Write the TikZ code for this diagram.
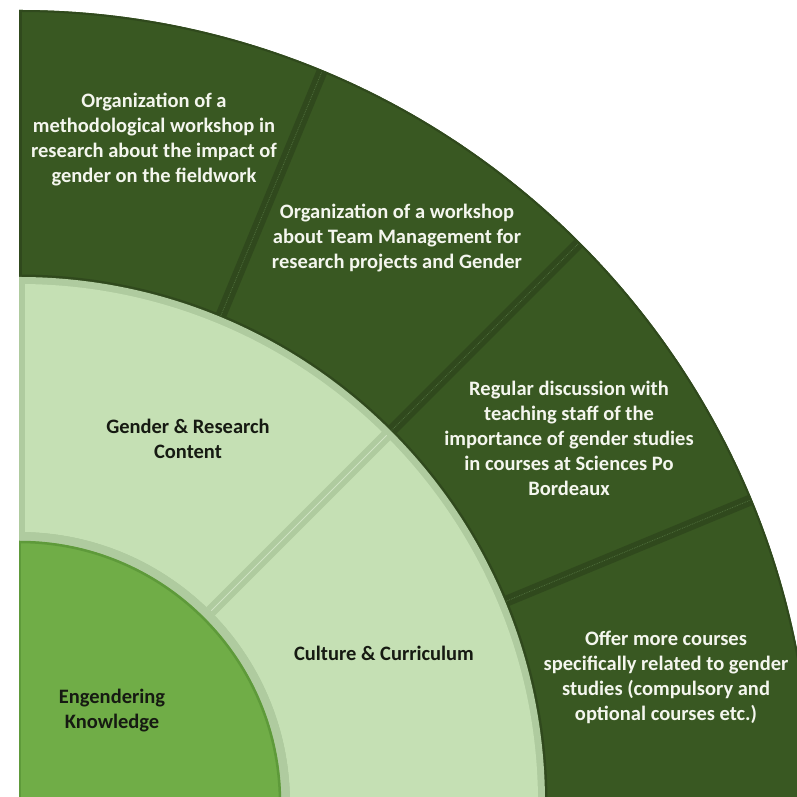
\documentclass[tikz,border=0pt]{standalone}
\usepackage{fontspec}
\setmainfont{Carlito}
\definecolor{darkg}{HTML}{395822}
\definecolor{darkdiv}{HTML}{30491D}
\definecolor{darkdot}{HTML}{4F6F3C}
\definecolor{lightg}{HTML}{C5E0B4}
\definecolor{lightband}{HTML}{AFCB9F}
\definecolor{lightdot}{HTML}{CFE3C2}
\definecolor{midg}{HTML}{70AD47}
\definecolor{midedge}{HTML}{5E9A3A}
\definecolor{whitetxt}{HTML}{F4F6EE}
\definecolor{blacktxt}{HTML}{161A12}
\tikzset{
  wlabel/.style={align=center, text=whitetxt, font=\fontsize{20.5}{25}\selectfont\bfseries, inner sep=0pt},
  blabel/.style={align=center, text=blacktxt, font=\fontsize{20.5}{25}\selectfont\bfseries, inner sep=0pt},
  darkdivider/.style={darkdiv, line width=11pt},
  darkdots/.style={darkdot, line width=0.8pt, densely dotted},
  lightdivider/.style={lightband, line width=12pt},
  lightdots/.style={lightdot, line width=1pt}
}
\begin{document}
\begin{tikzpicture}[x=1pt,y=1pt]
\useasboundingbox (-19,6) rectangle (778,803);
\clip (0,6) rectangle (778,803);
% outer dark ring
\fill[darkg] (0:526) -- (0:793) arc[start angle=0,end angle=90,radius=793] -- (90:526) arc[start angle=90,end angle=0,radius=526] -- cycle;
\draw[darkdiv, line width=2pt] (0:792) arc[start angle=0,end angle=90,radius=792];
\draw[darkdiv, line width=3pt] (0:527) arc[start angle=0,end angle=90,radius=527];
\draw[darkdiv, line width=5pt] (90:526) -- (90:793);
\foreach \a in {22.5,45,67.5} {
  \draw[darkdivider] (\a:526) -- (\a:792);
  \draw[darkdots] (\a:527) -- (\a:791);
}
% light ring
\fill[lightband] (0,0) -- (0:526) arc[start angle=0,end angle=90,radius=526] -- cycle;
\fill[lightg] (0:271) -- (0:519) arc[start angle=0,end angle=90,radius=519] -- (90:271) arc[start angle=90,end angle=0,radius=271] -- cycle;
\draw[lightband, line width=12pt] (90:271) -- (90:522);
\draw[lightdivider] (45:271) -- (45:522);
\draw[lightdots] (45:272) -- (45:520);
% inner circle
\fill[lightband] (0,0) -- (0:271) arc[start angle=0,end angle=90,radius=271] -- cycle;
\fill[midg] (0,0) -- (0:262) arc[start angle=0,end angle=90,radius=262] -- cycle;
\draw[midedge, line width=2.5pt] (0:261) arc[start angle=0,end angle=90,radius=261];
\draw[midedge, line width=4pt] (90:0) -- (90:261);
% labels
\node[wlabel] (t1) at (135,663.5) {Organization of a\\methodological workshop in\\research about the impact of\\gender on the fieldwork};
\node[wlabel] (t2) at (378,565) {Organization of a workshop\\about Team Management for\\research projects and Gender};
\node[wlabel] (t3) at (550,364.5) {Regular discussion with\\teaching staff of the\\importance of gender studies\\in courses at Sciences Po\\Bordeaux};
\node[wlabel] (t4) at (647,125.5) {Offer more courses\\specifically related to gender\\studies (compulsory and\\optional courses etc.)};
\node[blabel] (t5) at (169,364) {Gender \& Research\\Content};
\node[blabel] (t6) at (365,150) {Culture \& Curriculum};
\node[blabel] (t7) at (93,92.5) {Engendering\\Knowledge};
\end{tikzpicture}
\end{document}
